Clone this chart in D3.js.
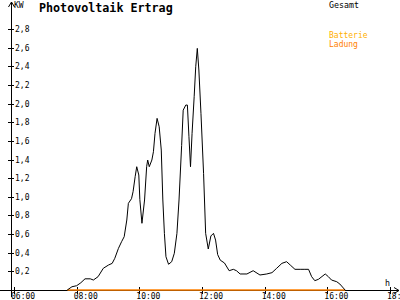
<!DOCTYPE html>
<html>
<head>
<meta charset="utf-8">
<script src="https://cdn.jsdelivr.net/npm/d3@7"></script>
<style>
    body { margin: 0; background: #fff; }
    svg { display: block; font-family: "DejaVu Sans Mono", monospace; }
</style>
</head>
<body>
<div id="chart"></div>
<script>
// Gesamt (PV output), time of day -> kW
let gesamtTimes = ["7:42","7:51","8:00","8:08","8:16","8:26","8:32","8:41","8:51","9:01","9:08","9:13","9:20","9:26","9:31","9:36","9:39","9:45","9:48","9:52","9:55","9:59","10:01","10:05","10:10","10:14","10:16","10:19","10:24","10:27","10:30","10:34","10:38","10:42","10:45","10:48","10:51","10:56","11:02","11:07","11:12","11:16","11:21","11:24","11:29","11:32","11:35","11:38","11:41","11:45","11:48","11:51","11:54","11:58","12:03","12:07","12:12","12:17","12:22","12:26","12:30","12:35","12:43","12:52","13:00","13:06","13:13","13:26","13:38","13:51","14:04","14:14","14:23","14:33","14:42","14:49","14:58","15:08","15:17","15:24","15:30","15:36","15:43","15:56","16:02","16:08","16:18","16:24","16:34"];
let gesamtKW = [0.00,0.035,0.046,0.078,0.12,0.12,0.107,0.143,0.233,0.268,0.286,0.34,0.447,0.518,0.572,0.751,0.93,0.98,1.055,1.216,1.323,1.234,0.97,0.716,0.966,1.323,1.395,1.323,1.395,1.484,1.681,1.842,1.752,1.502,0.966,0.608,0.357,0.276,0.304,0.394,0.608,0.966,1.55,1.93,1.985,1.985,1.645,1.323,1.681,2.074,2.396,2.593,2.361,1.896,1.252,0.608,0.44,0.58,0.608,0.536,0.38,0.32,0.29,0.207,0.222,0.207,0.172,0.172,0.207,0.161,0.172,0.186,0.233,0.286,0.304,0.268,0.222,0.222,0.222,0.222,0.143,0.10,0.115,0.172,0.143,0.107,0.089,0.064,0.00];

// Batterie Ladung, flat at zero over the same span
let ladungTimes = ["7:42","16:34"];
let ladungKW = [0, 0];

let yTicks = [0.2,0.4,0.6,0.8,1.0,1.2,1.4,1.6,1.8,2.0,2.2,2.4,2.6,2.8];
let xTicks = [6,8,10,12,14,16,18];

let width = 400, height = 300;

function toHours(s){
    let p = s.split(":");
    return parseInt(p[0]) + parseInt(p[1]) / 60;
}

let gesamt = gesamtTimes.map((t, i) => ({h: toHours(t), kw: gesamtKW[i]}));
let ladung = ladungTimes.map((t, i) => ({h: toHours(t), kw: ladungKW[i]}));

let svg = d3.select("#chart").append("svg")
    .attr("width", width)
    .attr("height", height);

let xScale = d3.scaleLinear().domain([6, 18]).range([14, 390]);
let yScale = d3.scaleLinear().domain([0, 2.8]).range([290, 29.1]);

let axisX = 11;
let baseY = yScale(0);

// title + legend
svg.append("text").text("Photovoltaik Ertrag")
    .attr("x", 39).attr("y", 12)
    .style("font-size", "11.7px").style("font-weight", "bold");

svg.append("text").text("KW")
    .attr("x", 14).attr("y", 8).style("font-size", "8px");

svg.append("text").text("Gesamt")
    .attr("x", 329).attr("y", 8).style("font-size", "8.3px");
svg.append("text").text("Batterie")
    .attr("x", 329).attr("y", 38).style("font-size", "8px").attr("fill", "#ffb000");
svg.append("text").text("Ladung")
    .attr("x", 329).attr("y", 47).style("font-size", "8px").attr("fill", "#ff8000");

svg.append("text").text("h")
    .attr("x", 385).attr("y", 286).style("font-size", "8.3px");

// axes, drawn by hand to get the arrow + cross ticks
let axes = svg.append("g").attr("stroke", "#000").attr("shape-rendering", "crispEdges");

axes.append("line")
    .attr("x1", axisX + 0.5).attr("x2", axisX + 0.5)
    .attr("y1", 2).attr("y2", 297);
axes.append("line")
    .attr("x1", 0).attr("x2", 399)
    .attr("y1", baseY + 0.5).attr("y2", baseY + 0.5);

let arrows = svg.append("g").attr("stroke", "#000").attr("fill", "none");
arrows.append("path").attr("d", `M${axisX - 2.5},7 L${axisX + 0.5},2 L${axisX + 3.5},7`);
arrows.append("path").attr("d", `M394,${baseY - 2.5} L399,${baseY + 0.5} L394,${baseY + 3.5}`);

let yt = svg.selectAll("g.ytick").data(yTicks).enter().append("g").attr("class", "ytick");
yt.append("line")
    .attr("x1", 8).attr("x2", 14)
    .attr("y1", d => Math.round(yScale(d)) + 0.5)
    .attr("y2", d => Math.round(yScale(d)) + 0.5)
    .attr("stroke", "#000").attr("shape-rendering", "crispEdges");
yt.append("text")
    .text(d => d3.format(".1f")(d).replace(".", ","))
    .attr("x", 15).attr("y", d => yScale(d) + 3)
    .style("font-size", "8px");

let xt = svg.selectAll("g.xtick").data(xTicks).enter().append("g").attr("class", "xtick");
xt.append("line")
    .attr("x1", d => Math.round(xScale(d)) + 0.5)
    .attr("x2", d => Math.round(xScale(d)) + 0.5)
    .attr("y1", 287).attr("y2", 294)
    .attr("stroke", "#000").attr("shape-rendering", "crispEdges");
xt.append("text")
    .text(d => d3.format("02")(d) + ":00")
    .attr("x", d => xScale(d) - 3).attr("y", 299)
    .style("font-size", "8px");

let lineGen = d3.line()
    .x(d => xScale(d.h))
    .y(d => yScale(d.kw));

svg.append("path").datum(ladung)
    .attr("d", lineGen)
    .attr("fill", "none")
    .attr("stroke", "#ff8000")
    .attr("stroke-width", 1.3);

svg.append("path").datum(gesamt)
    .attr("d", lineGen)
    .attr("fill", "none")
    .attr("stroke", "#000")
    .attr("stroke-width", 1);
</script>
</body>
</html>
